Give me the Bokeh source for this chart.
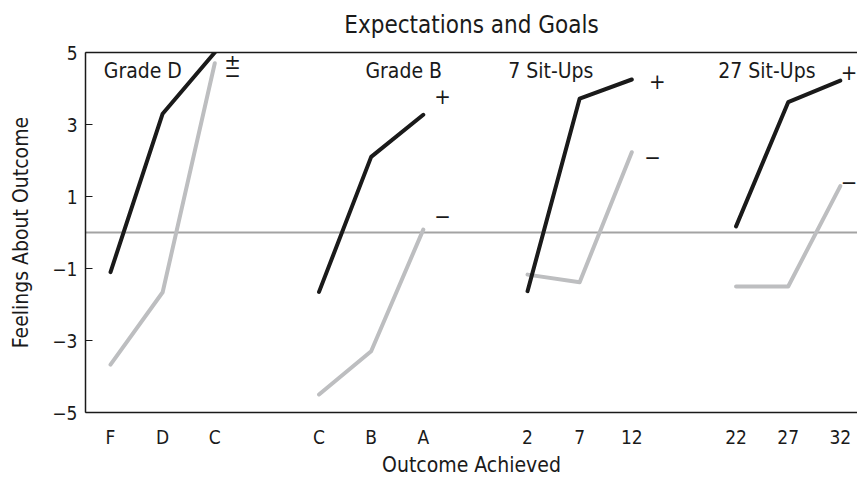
from bokeh.plotting import figure
from bokeh.models import FixedTicker, LinearAxis, Span, Range1d, ColumnDataSource
from bokeh.core.properties import value
from bokeh.embed import file_html
from bokeh.resources import INLINE

# ---- data ----
title_text = "Expectations and Goals"
groups = ["Grade D", "Grade B", "7 Sit-Ups", "27 Sit-Ups"]
outcomes = [["F", "D", "C"], ["C", "B", "A"], ["2", "7", "12"], ["22", "27", "32"]]
positive = [[-1.1, 3.3, 5.0], [-1.65, 2.1, 3.27], [-1.63, 3.72, 4.25], [0.17, 3.62, 4.22]]
negative = [[-3.67, -1.66, 4.7], [-4.5, -3.3, 0.08], [-1.17, -1.38, 2.23], [-1.5, -1.5, 1.29]]
y_ticks = [-5, -3, -1, 1, 3, 5]

# annotation placement (group titles and +/- markers)
group_label_dx = [-0.13, 0.89, -0.37, -0.34]
group_label_y = [4.5, 4.5, 4.5, 4.5]
plus_text = ["\u00b1", "+", "+", "+"]
plus_dx = [0.34, 0.37, 0.49, 0.17]
plus_y = [4.75, 3.8, 4.2, 4.45]
minus_dx = [0.34, 0.37, 0.4, 0.17]
minus_y = [4.38, 0.45, 2.1, 1.4]

FONT = "'Liberation Sans Narrow', 'DejaVu Sans Condensed', 'Liberation Sans', sans-serif"
BLACK = "#1a1a1a"
GRAY = "#bdbec0"

p = figure(width=857, height=484, x_range=Range1d(-0.48, 14.33), y_range=Range1d(-5, 5),
           output_backend="svg", toolbar_location=None,
           min_border_left=85, min_border_top=52, min_border_bottom=72, min_border_right=0)

p.outline_line_color = None
p.xgrid.visible = False
p.ygrid.visible = False
p.background_fill_color = "white"
p.border_fill_color = "white"

# positions
step = 4
xs_all = []
labels = {}
for g, outs in enumerate(outcomes):
    for i, o in enumerate(outs):
        x = g * step + i
        xs_all.append(x)
        labels[x] = o

xa = p.xaxis[0]
xa.ticker = FixedTicker(ticks=xs_all)
xa.major_label_overrides = labels
xa.major_tick_line_color = None
xa.minor_tick_line_color = None
xa.axis_line_color = BLACK
xa.axis_line_width = 1.5
xa.major_label_text_font = FONT
xa.major_label_text_font_size = "19px"
xa.major_label_text_color = BLACK
xa.major_label_standoff = 7
xa.axis_label = "Outcome Achieved"
xa.axis_label_text_font = FONT
xa.axis_label_text_font_size = "21px"
xa.axis_label_text_font_style = "normal"
xa.axis_label_text_color = BLACK
xa.axis_label_standoff = 2

ya = p.yaxis[0]
ya.ticker = FixedTicker(ticks=y_ticks)
ya.major_label_overrides = {t: (str(t).replace("-", "\u2212")) for t in y_ticks}
ya.major_tick_in = 7
ya.major_tick_out = 0
ya.major_tick_line_color = BLACK
ya.minor_tick_line_color = None
ya.axis_line_color = BLACK
ya.axis_line_width = 1.5
ya.major_label_text_font = FONT
ya.major_label_text_font_size = "19px"
ya.major_label_text_color = BLACK
ya.major_label_standoff = 8
ya.axis_label = "Feelings About Outcome"
ya.axis_label_text_font = FONT
ya.axis_label_text_font_size = "21px"
ya.axis_label_text_font_style = "normal"
ya.axis_label_text_color = BLACK
ya.axis_label_standoff = 16

# top frame line; its axis label carries the chart title
top = LinearAxis(ticker=FixedTicker(ticks=[]), major_label_text_font_size="0px",
                 major_tick_line_color=None, minor_tick_line_color=None,
                 axis_line_color=BLACK, axis_line_width=1.5, major_label_standoff=0,
                 axis_label=title_text, axis_label_text_font=FONT,
                 axis_label_text_font_size="24px", axis_label_text_font_style="normal",
                 axis_label_text_color=BLACK, axis_label_standoff=14)
p.add_layout(top, "above")

p.add_layout(Span(location=0, dimension="width", line_color="#a3a3a3", line_width=2, level="underlay"))

for g in range(len(groups)):
    xs = [g * step + i for i in range(3)]
    p.line(xs, negative[g], line_color=GRAY, line_width=4, line_cap="round", line_join="round")
for g in range(len(groups)):
    xs = [g * step + i for i in range(3)]
    p.line(xs, positive[g], line_color=BLACK, line_width=4, line_cap="round", line_join="round")

gsrc = ColumnDataSource(dict(
    x=[g * step + group_label_dx[g] for g in range(len(groups))],
    y=group_label_y, text=groups))
p.text(x="x", y="y", text="text", source=gsrc, text_font=value(FONT), text_font_size="21px",
       text_color=BLACK, text_baseline="middle", text_align="left")

ssrc = ColumnDataSource(dict(
    x=[g * step + 2 + plus_dx[g] for g in range(len(groups))] + [g * step + 2 + minus_dx[g] for g in range(len(groups))],
    y=plus_y + minus_y,
    text=plus_text + ["\u2212"] * len(groups)))
p.text(x="x", y="y", text="text", source=ssrc, text_font=value(FONT), text_font_size="22px",
       text_color=BLACK, text_baseline="middle", text_align="center")

open("out.html", "w").write(file_html(p, INLINE))
